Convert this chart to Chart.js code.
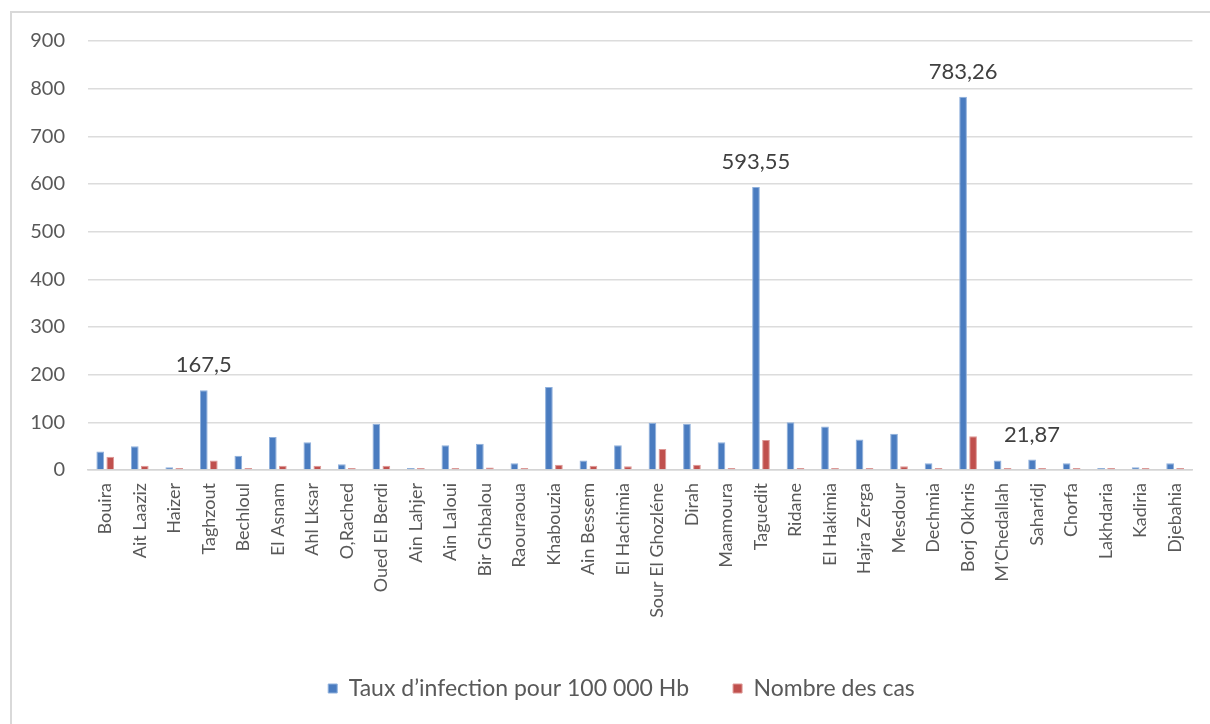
<!DOCTYPE html>
<html>
<head>
<meta charset="utf-8">
<script src="https://cdn.jsdelivr.net/npm/chart.js@4.4.1/dist/chart.umd.min.js"></script>
<style>
  html, body { margin: 0; padding: 0; background: #ffffff; overflow: hidden; }
  #frame {
    position: absolute; left: 10px; top: 11px; width: 1400px; height: 900px;
    border-left: 2px solid #d9d9d9; border-top: 2px solid #d9d9d9;
  }
  #wrap { position: absolute; left: 0; top: 0; width: 1210px; height: 724px; }
</style>
</head>
<body>
<div id="frame"></div>
<div id="wrap"><canvas id="chart"></canvas></div>
<script>
// Communes
const communes = [
  "Bouira", "Ait Laaziz", "Haizer", "Taghzout", "Bechloul", "El Asnam", "Ahl Lksar",
  "O,Rached", "Oued El Berdi", "Ain Lahjer", "Ain Laloui", "Bir Ghbalou", "Raouraoua",
  "Khabouzia", "Ain Bessem", "El Hachimia", "Sour El Ghozléne", "Dirah", "Maamoura",
  "Taguedit", "Ridane", "El Hakimia", "Hajra Zerga", "Mesdour", "Dechmia", "Borj Okhris",
  "M’Chedallah", "Saharidj", "Chorfa", "Lakhdaria", "Kadiria", "Djebahia"
];

// Infection rate per 100 000 inhabitants
const tauxInfection = [
  39, 50, 6, 167.5, 30, 69, 58, 12, 97, 4, 52, 55, 14, 174, 20, 52, 99, 97, 58,
  593.55, 100, 91, 64, 76, 14, 783.26, 20, 21.87, 14, 4, 6, 14
];

// Number of cases
const nombreCas = [
  28, 9, 4, 20, 4, 9, 9, 4, 9, 4, 4, 5, 4, 11, 9, 8, 44, 11, 4,
  63, 4, 4, 4, 8, 4, 71, 4, 4, 4, 4, 4, 4
];

// Bars of the rate series that carry a value label
const labelledRates = [3, 19, 25, 27];

const yTicks = [0, 100, 200, 300, 400, 500, 600, 700, 800, 900];

const FONT = "Lato, 'Open Sans', sans-serif";
const TEXT = "#595959";

const valueLabels = {
  id: "valueLabels",
  afterDatasetsDraw(chart) {
    const ctx = chart.ctx;
    const meta = chart.getDatasetMeta(0);
    ctx.save();
    ctx.font = "22px " + FONT;
    ctx.fillStyle = "#404040";
    ctx.textAlign = "center";
    ctx.textBaseline = "alphabetic";
    labelledRates.forEach(i => {
      const bar = meta.data[i];
      const txt = String(tauxInfection[i]).replace(".", ",");
      ctx.fillText(txt, bar.x, bar.y - 18);
    });
    ctx.restore();
  }
};

// Centre the legend under the plot rather than the whole canvas
const legendShift = {
  id: "legendShift",
  afterLayout(chart) {
    const lg = chart.legend;
    if (!lg) return;
    const dx = 25;
    lg.left += dx;
    lg.right += dx;
  }
};

new Chart(document.getElementById("chart"), {
  type: "bar",
  data: {
    labels: communes,
    datasets: [
      {
        label: "Taux d’infection pour 100 000 Hb",
        data: tauxInfection,
        backgroundColor: "#4a7cc0",
        borderColor: "#8fb0dc",
        borderWidth: 1,
        categoryPercentage: 0.58,
        barPercentage: 0.77
      },
      {
        label: "Nombre des cas",
        data: nombreCas,
        backgroundColor: "#c0504d",
        borderColor: "#de9896",
        borderWidth: 1,
        categoryPercentage: 0.58,
        barPercentage: 0.77
      }
    ]
  },
  options: {
    responsive: true,
    maintainAspectRatio: false,
    animation: false,
    events: [],
    layout: { padding: { top: 41, right: 17, left: 0, bottom: 14 } },
    plugins: {
      tooltip: { enabled: false },
      legend: {
        position: "bottom",
        labels: {
          font: { family: FONT, size: 23 },
          color: TEXT,
          boxWidth: 9,
          boxHeight: 9,
          padding: 44
        }
      }
    },
    scales: {
      x: {
        grid: { display: false, drawTicks: false },
        border: { display: true, color: "#d4d4d4", width: 1.5 },
        ticks: {
          autoSkip: false,
          maxRotation: 90,
          minRotation: 90,
          padding: 13,
          font: { family: FONT, size: 18 },
          color: TEXT
        },
        afterFit(scale) { scale.height = 163; }
      },
      y: {
        min: 0,
        max: 900,
        afterBuildTicks(scale) { scale.ticks = yTicks.map(v => ({ value: v })); },
        grid: { color: "#dcdcdc", lineWidth: 1.5, drawTicks: false },
        border: { display: false },
        ticks: {
          padding: 23,
          font: { family: FONT, size: 20 },
          color: TEXT
        },
        afterFit(scale) { scale.width = 88; }
      }
    }
  },
  plugins: [valueLabels, legendShift]
});
</script>
</body>
</html>
